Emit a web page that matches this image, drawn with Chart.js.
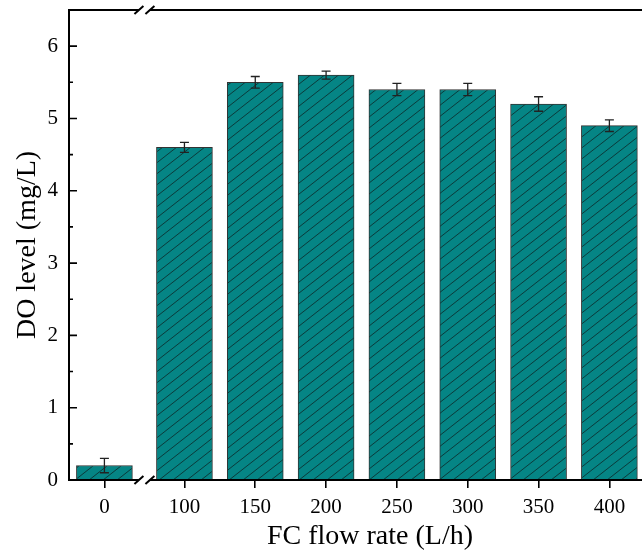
<!DOCTYPE html>
<html>
<head>
<meta charset="utf-8">
<script src="https://cdn.jsdelivr.net/npm/chart.js@4/dist/chart.umd.min.js"></script>
<style>
  html, body { margin: 0; padding: 0; background: #fff; overflow: hidden; }
  #wrap { width: 672px; height: 551px; }
</style>
</head>
<body>
<div id="wrap"><canvas id="c" width="672" height="551"></canvas></div>
<script>
// ---- data ----
const categories = ['0', '100', '150', '200', '250', '300', '350', '400'];
const doValues   = [0.2, 4.6, 5.5, 5.6, 5.4, 5.4, 5.2, 4.9];
const doErrors   = [0.1, 0.07, 0.08, 0.055, 0.085, 0.085, 0.1, 0.08];
const yTickValues = [0, 1, 2, 3, 4, 5, 6];
const xTitle = 'FC flow rate (L/h)';
const yTitle = 'DO level (mg/L)';

// ---- layout helpers ----
const BREAK_GAP = 0.13;               // extra space after the axis break
const xPos = categories.map((c, i) => i + (i > 0 ? BREAK_GAP : 0));
const breakPos = (xPos[0] + xPos[1]) / 2;
const FONT = "'Liberation Serif', 'Times New Roman', serif";
const TEAL = '#058585';

const ctx = document.getElementById('c').getContext('2d');

// hatch pattern
const PW = 14, PH = 11;
const pc = document.createElement('canvas');
pc.width = PW; pc.height = PH;
const pg = pc.getContext('2d');
pg.fillStyle = TEAL; pg.fillRect(0, 0, PW, PH);
pg.strokeStyle = 'rgba(15,35,35,0.85)'; pg.lineWidth = 0.9;
pg.beginPath();
const k = PH / PW;
pg.moveTo(-2, PH + 2 * k); pg.lineTo(PW + 2, -2 * k);
pg.moveTo(-2, 2 * k); pg.lineTo(2, -2 * k);
pg.moveTo(PW - 2, PH + 2 * k); pg.lineTo(PW + 2, PH - 2 * k);
pg.stroke();
const hatch = ctx.createPattern(pc, 'repeat');

const axesPlugin = {
  id: 'axesPlugin',
  afterDatasetsDraw(chart) {
    const c = chart.ctx;
    const xs = chart.scales.x, ys = chart.scales.y;
    const a = chart.chartArea;
    c.save();
    // error bars
    const meta = chart.getDatasetMeta(0);
    c.strokeStyle = '#222'; c.lineWidth = 1.3;
    meta.data.forEach((bar, i) => {
      const x = bar.x;
      const yTop = ys.getPixelForValue(doValues[i] + doErrors[i]);
      const yBot = ys.getPixelForValue(doValues[i] - doErrors[i]);
      c.beginPath();
      c.moveTo(x, yTop); c.lineTo(x, yBot);
      c.moveTo(x - 4.5, yTop); c.lineTo(x + 4.5, yTop);
      c.moveTo(x - 4.5, yBot); c.lineTo(x + 4.5, yBot);
      c.stroke();
    });
    // axes
    c.strokeStyle = '#000'; c.lineWidth = 2; c.lineCap = 'butt';
    const bx = xs.getPixelForValue(breakPos);
    const off = 5.5;
    c.beginPath(); c.moveTo(a.left, a.top - 1); c.lineTo(a.left, a.bottom + 1); c.stroke();
    [a.top, a.bottom].forEach(y => {
      c.beginPath();
      c.moveTo(a.left - 1, y); c.lineTo(bx - off, y);
      c.moveTo(bx + off, y); c.lineTo(a.right, y);
      c.stroke();
      c.beginPath();
      [bx - off, bx + off].forEach(sx => {
        c.moveTo(sx - 4.5, y + 4); c.lineTo(sx + 4.5, y - 4);
      });
      c.stroke();
    });
    // y ticks (inward), major and minor
    c.lineWidth = 1.6;
    c.beginPath();
    yTickValues.forEach(v => {
      const y = ys.getPixelForValue(v);
      c.moveTo(a.left, y); c.lineTo(a.left + 8, y);
      if (v + 0.5 <= ys.max) {
        const ym = ys.getPixelForValue(v + 0.5);
        c.moveTo(a.left, ym); c.lineTo(a.left + 4, ym);
      }
    });
    c.stroke();
    c.restore();
  }
};

new Chart(ctx, {
  type: 'bar',
  data: {
    datasets: [{
      data: categories.map((c, i) => ({ x: xPos[i], y: doValues[i] })),
      backgroundColor: hatch,
      borderColor: '#333',
      borderWidth: 1,
      barThickness: 56
    }]
  },
  options: {
    responsive: false,
    animation: false,
    layout: { padding: { top: 10, right: 1, left: 0, bottom: 0 } },
    plugins: { legend: { display: false }, tooltip: { enabled: false } },
    scales: {
      x: {
        type: 'linear',
        offset: false,
        min: -0.5, max: 8.0,
        afterBuildTicks: s => { s.ticks = xPos.map(v => ({ value: v })); },
        afterFit: s => { s.height = 71; s.paddingLeft = 0; s.paddingRight = 0; },
        ticks: {
          autoSkip: false, maxRotation: 0, minRotation: 0,
          padding: 7,
          color: '#000',
          font: { family: FONT, size: 21 },
          callback: (v, idx) => categories[idx]
        },
        grid: { display: true, offset: false, drawOnChartArea: false, drawTicks: true, tickLength: 8, color: '#000', lineWidth: 1.6 },
        border: { display: false },
        title: { display: true, text: xTitle, color: '#000', font: { family: FONT, size: 28, lineHeight: 1 }, padding: { top: 1, bottom: 0 } }
      },
      y: {
        min: 0, max: 6.5,
        afterBuildTicks: s => { s.ticks = yTickValues.map(v => ({ value: v })); },
        afterFit: s => { s.width = 69; s.paddingTop = 0; s.paddingBottom = 0; },
        ticks: { padding: 11, color: '#000', font: { family: FONT, size: 21 } },
        grid: { display: false, drawTicks: false },
        border: { display: false },
        title: { display: true, text: yTitle, color: '#000', font: { family: FONT, size: 28, lineHeight: 1 }, padding: { top: 14, bottom: 0 } }
      }
    }
  },
  plugins: [axesPlugin]
});
</script>
</body>
</html>
